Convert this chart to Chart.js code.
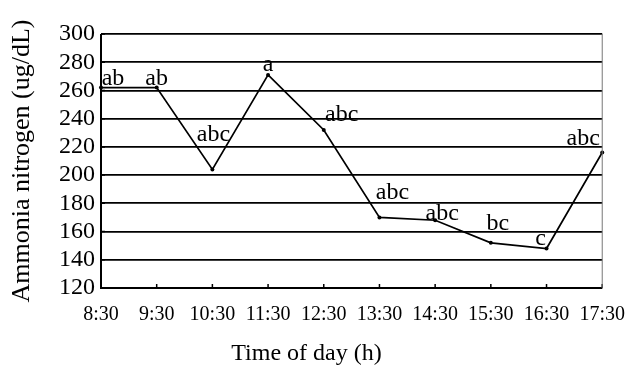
<!DOCTYPE html>
<html>
<head>
<meta charset="utf-8">
<script src="https://cdn.jsdelivr.net/npm/chart.js@4/dist/chart.umd.min.js"></script>
<style>
  html, body { margin: 0; padding: 0; background: #fff; }
  #wrap { width: 640px; height: 367px; position: relative; }
</style>
</head>
<body>
<div id="wrap"><canvas id="c" width="640" height="367"></canvas></div>
<script>
// Sampling times and measured ammonia nitrogen
const times = ['8:30', '9:30', '10:30', '11:30', '12:30', '13:30', '14:30', '15:30', '16:30', '17:30'];
const ammonia = [262, 262, 204, 271, 232, 170, 168, 152, 148, 216];
// Significance letters for each time point
const letters = ['ab', 'ab', 'abc', 'a', 'abc', 'abc', 'abc', 'bc', 'c', 'abc'];
// Y axis range and step
const yMin = 120, yMax = 300, yStep = 20;
const xTitle = 'Time of day (h)';

// Placement of each letter relative to its point (pixels)
const letterOffsets = [
  [12, -9], [0, -9], [1, -35], [0, -10], [18, -15],
  [13, -25], [7, -7], [7, -19], [-6, -10], [-19, -14]
];

const FONT = "'Liberation Serif', 'Times New Roman', serif";

// Letters above the points
const letterPlugin = {
  id: 'letters',
  afterDatasetsDraw(chart) {
    const ctx = chart.ctx;
    const meta = chart.getDatasetMeta(0);
    ctx.save();
    ctx.fillStyle = '#000';
    ctx.font = '24px ' + FONT;
    ctx.textAlign = 'center';
    ctx.textBaseline = 'middle';
    meta.data.forEach((pt, i) => {
      const [dx, dy] = letterOffsets[i];
      ctx.fillText(letters[i], pt.x + dx, pt.y + dy);
    });
    ctx.restore();
  }
};

// Short tick marks pointing into the plot, the frame and the x-axis title
const frameTicks = {
  id: 'frameTicks',
  afterDraw(chart) {
    const ctx = chart.ctx;
    const a = chart.chartArea;
    const xs = chart.scales.x, ys = chart.scales.y;
    ctx.save();
    ctx.strokeStyle = '#000';
    ctx.lineWidth = 1.5;
    ctx.beginPath();
    xs.ticks.forEach((t, i) => {
      const x = xs.getPixelForTick(i);
      ctx.moveTo(x, a.bottom);
      ctx.lineTo(x, a.bottom - 4);
    });
    ys.ticks.forEach((t, i) => {
      const y = ys.getPixelForTick(i);
      ctx.moveTo(a.left, y);
      ctx.lineTo(a.left + 4, y);
    });
    ctx.stroke();
    ctx.lineWidth = 2;
    ctx.beginPath();
    ctx.moveTo(a.left, a.top);
    ctx.lineTo(a.left, a.bottom);
    ctx.lineTo(a.right, a.bottom);
    ctx.stroke();
    ctx.strokeStyle = '#777';
    ctx.lineWidth = 1;
    ctx.beginPath();
    ctx.moveTo(a.right, a.top);
    ctx.lineTo(a.right, a.bottom);
    ctx.stroke();

    ctx.fillStyle = '#000';
    ctx.font = '24px ' + FONT;
    ctx.textAlign = 'center';
    ctx.textBaseline = 'middle';
    ctx.fillText(xTitle, a.left + (a.right - a.left) * 0.41, a.bottom + 66);
    ctx.restore();
  }
};

new Chart(document.getElementById('c'), {
  type: 'line',
  data: {
    labels: times,
    datasets: [{
      data: ammonia,
      borderColor: '#000',
      backgroundColor: '#000',
      borderWidth: 1.7,
      pointRadius: 2,
      pointBorderWidth: 0,
      tension: 0,
      fill: false
    }]
  },
  options: {
    responsive: false,
    animation: false,
    devicePixelRatio: 1,
    layout: { padding: { top: 34, right: 35, left: 0, bottom: 0 } },
    plugins: { legend: { display: false }, tooltip: { enabled: false } },
    scales: {
      x: {
        offset: false,
        grid: { display: false, drawTicks: false },
        border: { display: false },
        ticks: { color: '#000', font: { family: FONT, size: 20 }, padding: 15, maxRotation: 0, autoSkip: false },
        afterFit(scale) { scale.height = 79; }
      },
      y: {
        min: yMin, max: yMax,
        grid: { color: '#000', lineWidth: 1.8, drawTicks: false },
        border: { display: false },
        ticks: { stepSize: yStep, color: '#000', font: { family: FONT, size: 24 }, padding: 6, autoSkip: false },
        title: { display: true, text: 'Ammonia nitrogen (ug/dL)', color: '#000', font: { family: FONT, size: 26 }, padding: { top: 7, bottom: 0 } },
        afterFit(scale) { scale.width = 101; }
      }
    }
  },
  plugins: [letterPlugin, frameTicks]
});
</script>
</body>
</html>
